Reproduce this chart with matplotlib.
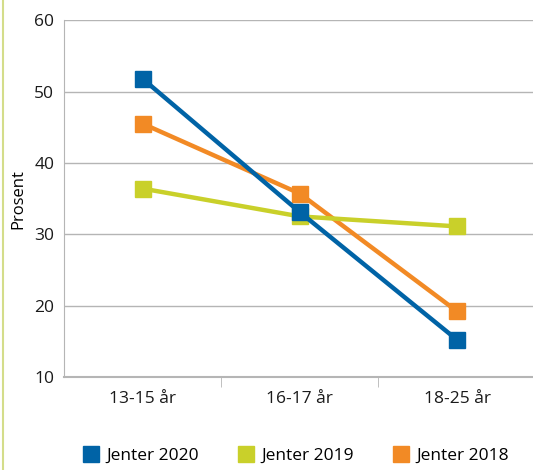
import numpy as np
import matplotlib.pyplot as plt
from matplotlib.lines import Line2D

plt.rcParams['font.family'] = ['Open Sans', 'DejaVu Sans']

categories = ['13-15 år', '16-17 år', '18-25 år']
jenter_2020 = [51.8, 33.1, 15.2]
jenter_2019 = [36.4, 32.5, 31.1]
jenter_2018 = [45.5, 35.7, 19.2]

blue = '#0063a6'
green = '#c9d02a'
orange = '#f28a25'

fig = plt.figure(figsize=(5.33, 4.70), dpi=100)
ax = fig.add_axes([0.12, 0.198, 0.885, 0.759])

x = np.arange(len(categories))
series = [('Jenter 2018', jenter_2018, orange, 2),
          ('Jenter 2019', jenter_2019, green, 3),
          ('Jenter 2020', jenter_2020, blue, 4)]
for name, vals, col, z in series:
    ax.plot(x, vals, color=col, lw=3.2, marker='s', ms=12, zorder=z,
            solid_capstyle='butt')

ax.set_xlim(-0.5, 2.5)
ax.set_ylim(10, 60)
ax.set_yticks(range(10, 61, 10))
ax.yaxis.grid(True, color='#b5b5b5', lw=1)
ax.set_axisbelow(True)

ax.set_xticks(x)
ax.set_xticklabels(categories)
ax.set_xticks([0.5, 1.5], minor=True)
ax.tick_params(axis='x', which='major', length=0, pad=10)
ax.tick_params(axis='x', which='minor', length=7, color='#b5b5b5', direction='out')
ax.tick_params(axis='y', length=0, pad=7)
ax.tick_params(labelsize=12.5, colors='#1a1a1a')

for s in ['top', 'right']:
    ax.spines[s].set_visible(False)
ax.spines['left'].set_color('#b5b5b5')
ax.spines['bottom'].set_color('#b5b5b5')
ax.spines['bottom'].set_linewidth(1.5)

ax.set_ylabel('Prosent', fontsize=12, labelpad=6)

handles = [Line2D([], [], color=c, marker='s', ls='none', ms=12)
           for c in [blue, green, orange]]
fig.legend(handles, ['Jenter 2020', 'Jenter 2019', 'Jenter 2018'],
           loc='lower center', bbox_to_anchor=(0.555, -0.02), ncol=3,
           frameon=False, fontsize=12.5, handletextpad=0.4, columnspacing=2.2,
           handlelength=1.0)

# thin green bar at left edge
fig.add_artist(Line2D([0.006, 0.006], [0, 1], color='#d4dd8a', lw=1.5))

fig.savefig('out.png', dpi=100)
